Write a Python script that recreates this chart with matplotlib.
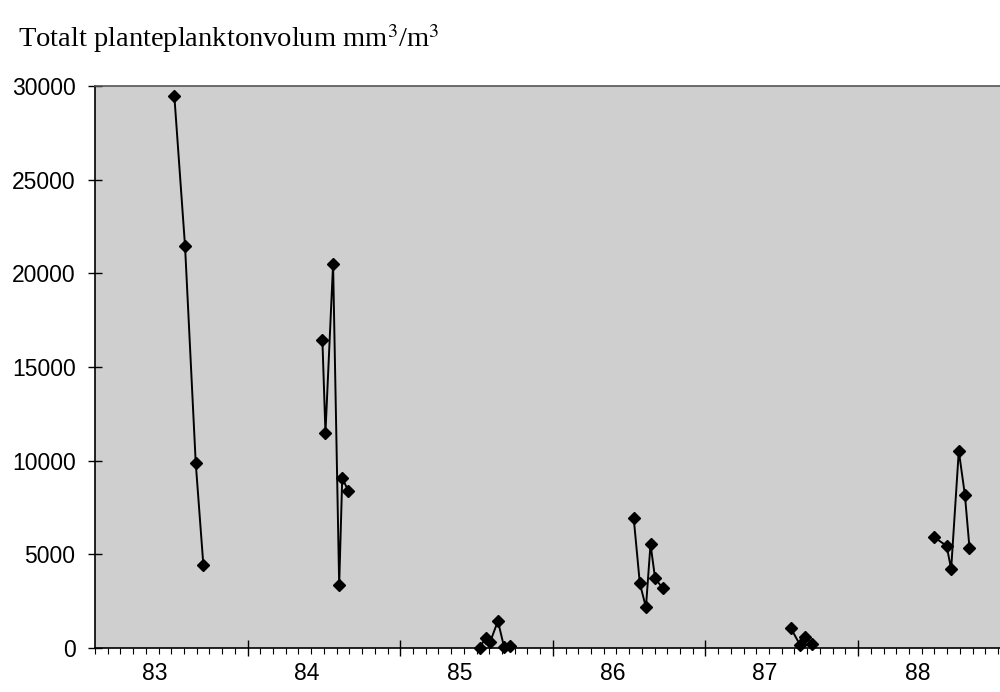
import numpy as np
import matplotlib
matplotlib.use("Agg")
import matplotlib.pyplot as plt
import matplotlib.transforms as mtransforms

# sampling times (decimal year, 83 = 1983) and total phytoplankton volume
t83 = [83.52, 83.59, 83.66, 83.71]
v83 = [29450, 21450, 9880, 4430]
t84 = [84.49, 84.51, 84.56, 84.60, 84.62, 84.66]
v84 = [16440, 11480, 20500, 3360, 9080, 8380]
t85 = [85.52, 85.56, 85.59, 85.64, 85.68, 85.72]
v85 = [20, 550, 340, 1440, 70, 110]
t86 = [86.53, 86.57, 86.61, 86.64, 86.67, 86.72]
v86 = [6920, 3450, 2170, 5540, 3720, 3190]
t87 = [87.56, 87.62, 87.65, 87.70]
v87 = [1050, 160, 600, 210]
t88 = [88.50, 88.58, 88.61, 88.66, 88.70, 88.73]
v88 = [5910, 5450, 4220, 10520, 8170, 5350]

years = [83, 84, 85, 86, 87, 88]
yticks = [0, 5000, 10000, 15000, 20000, 25000, 30000]
title = "Totalt planteplanktonvolum mm$^3$/m$^3$"

fig = plt.figure(figsize=(10, 6.92), dpi=100)
ax = fig.add_axes([0.095, 0.0636, 0.905, 0.8121])
ax.set_facecolor("#cfcfcf")

for t, v in [(t83, v83), (t84, v84), (t85, v85), (t86, v86), (t87, v87), (t88, v88)]:
    ax.plot(t, v, color="black", lw=1.4, marker="D", ms=6, mfc="black", mec="black",
            clip_on=False, zorder=3)

ax.set_xlim(83, 88.93)
ax.set_ylim(0, 30000)

ax.set_yticks(yticks)
ax.set_yticklabels([str(y) for y in yticks], family="Liberation Sans", fontsize=16.5)
ax.tick_params(axis="y", direction="inout", length=10, width=1, pad=9)

ax.set_xticks([y + 1 for y in years[:-1]])
ax.set_xticklabels([])
ax.set_xticks(np.arange(83, 88.93, 1 / 12), minor=True)
ax.tick_params(axis="x", which="major", direction="inout", length=12, width=1)
ax.tick_params(axis="x", which="minor", direction="out", length=4, width=0.8)

trans = mtransforms.blended_transform_factory(ax.transData, ax.transAxes)
for y in years:
    ax.text(y + 0.39, -0.046, str(y), transform=trans, ha="center", va="center",
            family="Liberation Sans", fontsize=16.5)

for s in ["left", "bottom", "top"]:
    ax.spines[s].set_linewidth(1.2)
ax.spines["top"].set_color("#555555")
ax.spines["right"].set_visible(False)

fig.text(0.018, 0.944, title, family="Liberation Serif", fontsize=20.5,
         ha="left", va="center", math_fontfamily="stix")

fig.savefig("out.png", dpi=100)
